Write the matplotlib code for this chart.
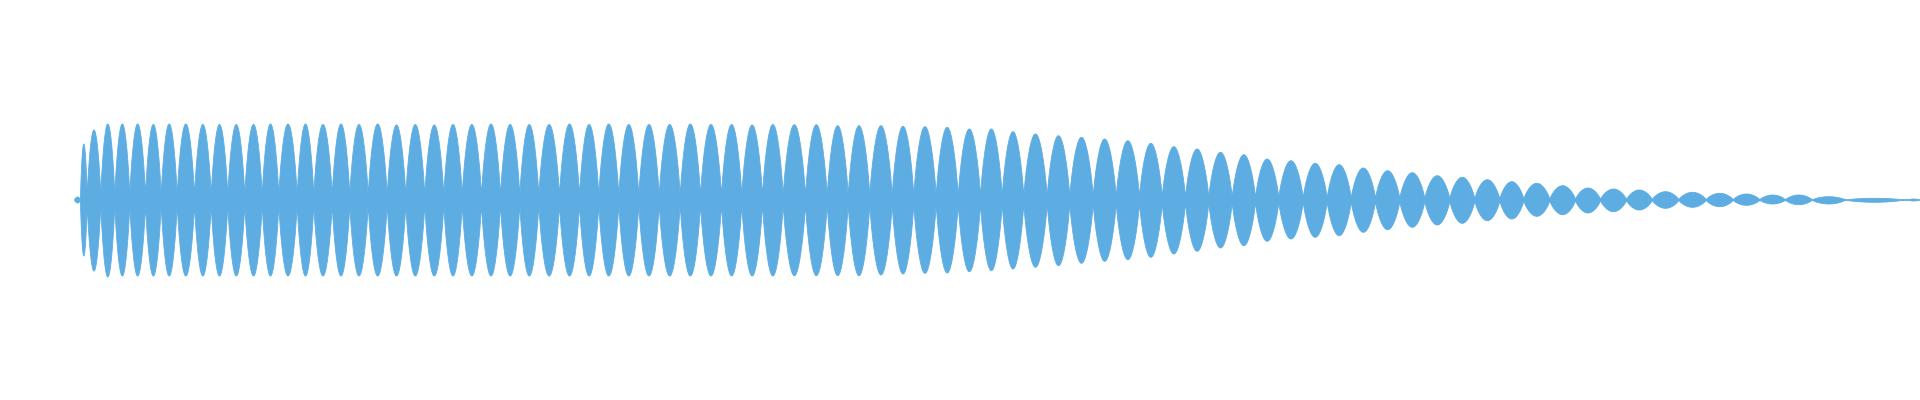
import numpy as np
import matplotlib
matplotlib.use("Agg")
import matplotlib.pyplot as plt

# Beat-lobe boundaries (seconds)
neck_t = [0.000, 0.060, 0.127, 0.263, 0.403, 0.553, 0.710, 0.867, 1.027, 1.200,
          1.367, 1.533, 1.703, 1.877, 2.043, 2.227, 2.393, 2.577, 2.753, 2.937,
          3.127, 3.313, 3.503, 3.693, 3.877, 4.070, 4.260, 4.453, 4.643, 4.850,
          5.050, 5.243, 5.443, 5.643, 5.847, 6.057, 6.260, 6.470, 6.673, 6.880,
          7.087, 7.310, 7.527, 7.737, 7.953, 8.177, 8.393, 8.617, 8.837, 9.060,
          9.277, 9.493, 9.727, 9.953, 10.187, 10.417, 10.650, 10.877, 11.110, 11.343,
          11.577, 11.810, 12.043, 12.287, 12.527, 12.767, 13.010, 13.253, 13.503, 13.753,
          14.003, 14.253, 14.493, 14.753, 15.010, 15.260, 15.520, 15.777, 16.043, 16.317,
          16.587, 16.853, 17.110, 17.377, 17.710, 18.290, 18.330, 18.460]

# Peak amplitude of each lobe, positive and negative side
peak_top = [0.03, 0.56, 0.70, 0.76, 0.76, 0.76, 0.755, 0.76, 0.76, 0.755,
            0.755, 0.755, 0.755, 0.76, 0.76, 0.76, 0.755, 0.76, 0.755, 0.76,
            0.75, 0.755, 0.75, 0.755, 0.755, 0.76, 0.755, 0.755, 0.755, 0.76,
            0.755, 0.76, 0.755, 0.755, 0.755, 0.76, 0.755, 0.755, 0.75, 0.755,
            0.753, 0.753, 0.743, 0.743, 0.743, 0.737, 0.733, 0.727, 0.71, 0.71,
            0.683, 0.66, 0.643, 0.627, 0.61, 0.593, 0.567, 0.533, 0.51, 0.477,
            0.453, 0.41, 0.393, 0.367, 0.353, 0.32, 0.293, 0.273, 0.243, 0.227,
            0.203, 0.183, 0.167, 0.143, 0.12, 0.11, 0.10, 0.083, 0.077, 0.067,
            0.06, 0.05, 0.05, 0.033, 0.017, 0.003, 0.01]
peak_bot = [0.03, 0.56, 0.71, 0.77, 0.76, 0.76, 0.76, 0.76, 0.76, 0.76,
            0.76, 0.76, 0.76, 0.76, 0.76, 0.76, 0.76, 0.76, 0.76, 0.76,
            0.76, 0.76, 0.76, 0.76, 0.76, 0.76, 0.76, 0.76, 0.76, 0.76,
            0.76, 0.76, 0.76, 0.76, 0.76, 0.76, 0.76, 0.76, 0.76, 0.76,
            0.757, 0.757, 0.757, 0.757, 0.75, 0.74, 0.733, 0.73, 0.717, 0.707,
            0.69, 0.673, 0.657, 0.633, 0.613, 0.597, 0.573, 0.54, 0.513, 0.48,
            0.457, 0.413, 0.39, 0.373, 0.357, 0.323, 0.297, 0.273, 0.25, 0.233,
            0.207, 0.19, 0.163, 0.147, 0.13, 0.117, 0.10, 0.083, 0.073, 0.067,
            0.053, 0.04, 0.047, 0.04, 0.023, 0.003, 0.01]

COLOR = "#5DADE2"
NECK = 0.025   # residual width at lobe boundaries (fraction of peak)
FULLNESS = 0.75  # lobe outline exponent

fig = plt.figure(figsize=(19.2, 4.0), dpi=100)
ax = fig.add_axes([0, 0, 1, 1])

ts, ups, los = [], [], []
u = np.linspace(0, 1, 120)
shape = NECK + (1 - NECK) * np.sin(np.pi * u) ** FULLNESS
for i in range(len(peak_top)):
    t0, t1 = neck_t[i], neck_t[i + 1]
    ts.append(t0 + (t1 - t0) * u)
    ups.append(peak_top[i] * shape)
    los.append(-peak_bot[i] * shape)
t_all = np.concatenate(ts)
ax.fill_between(t_all, np.concatenate(los), np.concatenate(ups),
                color=COLOR, linewidth=0.6, edgecolor=COLOR)

ax.set_xlim(-0.74, 18.46)
ax.set_ylim(-2.005, 1.995)
ax.axis("off")
fig.savefig("out.png", dpi=100, facecolor="white")
